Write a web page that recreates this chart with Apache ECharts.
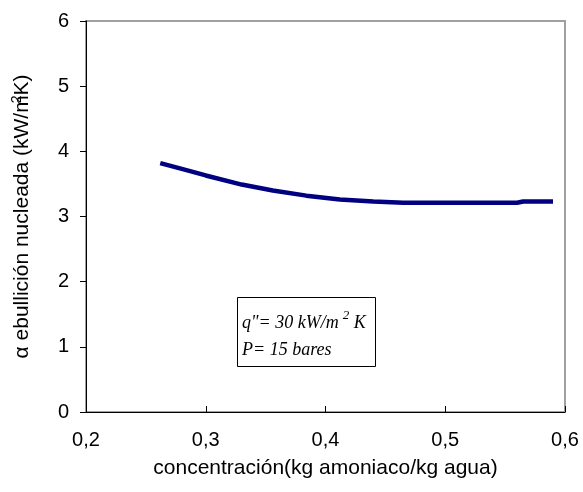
<!DOCTYPE html>
<html><head><meta charset="utf-8">
<script src="https://cdn.jsdelivr.net/npm/echarts@6/dist/echarts.min.js"></script>
<style>html,body{margin:0;padding:0;background:#fff}#c{width:583px;height:492px}</style>
</head><body><div id="c"></div>
<script>
var concentracion = [0.262, 0.28, 0.30, 0.33, 0.356, 0.384, 0.412, 0.44, 0.465, 0.50, 0.53, 0.56, 0.565, 0.59];
var alphaValues   = [3.82, 3.73, 3.63, 3.49, 3.40, 3.32, 3.26, 3.23, 3.21, 3.21, 3.21, 3.21, 3.23, 3.23];
var xTicks = [0.2, 0.3, 0.4, 0.5, 0.6];
var yTicks = [0, 1, 2, 3, 4, 5, 6];

var chart = echarts.init(document.getElementById('c'));
var font = 'Liberation Sans, Arial, sans-serif';
chart.setOption({
  animation: false,
  grid: {left: 86, right: 18, top: 21, bottom: 80, show: true, borderColor: '#a0a0a0', borderWidth: 2, backgroundColor: 'transparent'},
  xAxis: {
    type: 'value', min: xTicks[0], max: xTicks[xTicks.length-1], interval: 0.1,
    axisLine: {show: true, onZero: false, lineStyle: {color: '#000', width: 1}},
    axisTick: {show: true, inside: true, length: 6, lineStyle: {color: '#000'}},
    splitLine: {show: false},
    axisLabel: {fontFamily: font, fontSize: 20, color: '#000', margin: 18, formatter: function(v){return v.toFixed(1).replace('.', ',');}},
    name: 'concentración(kg amoniaco/kg agua)', nameLocation: 'middle', nameGap: 46,
    nameTextStyle: {fontFamily: font, fontSize: 21, color: '#000'}
  },
  yAxis: {
    type: 'value', min: yTicks[0], max: yTicks[yTicks.length-1], interval: 1,
    axisLine: {show: true, lineStyle: {color: '#000', width: 1}},
    axisTick: {show: true, length: 6, lineStyle: {color: '#000'}},
    splitLine: {show: false},
    axisLabel: {fontFamily: font, fontSize: 20, color: '#000', margin: 17},
    name: 'α ebullición nucleada (kW/m{sup|2}K)', nameLocation: 'middle', nameGap: 52,
    nameTextStyle: {fontFamily: font, fontSize: 21, color: '#000',
      rich: {sup: {fontFamily: font, fontSize: 14, color: '#000', verticalAlign: 'bottom', padding: [0,0,10,-8]}}}
  },
  series: [{
    type: 'line', showSymbol: false, smooth: false,
    data: concentracion.map(function(x, i){return [x, alphaValues[i]];}),
    lineStyle: {color: '#000080', width: 4.5}
  }],
  graphic: [
    {type: 'rect', shape: {x: 237.5, y: 297.5, width: 138, height: 69}, style: {fill: '#fff', stroke: '#000', lineWidth: 1}},
    {type: 'text', left: 242, top: 309, style: {
      text: 'q"= 30 kW/m{s|2} K\nP= 15 bares',
      font: 'italic 18px "Liberation Serif", "Times New Roman", serif', fill: '#000', lineHeight: 27,
      rich: {s: {font: 'italic 13px "Liberation Serif", serif', fill: '#000', verticalAlign: 'bottom', padding: [0,0,15,4]}}
    }}
  ]
});
</script></body></html>
